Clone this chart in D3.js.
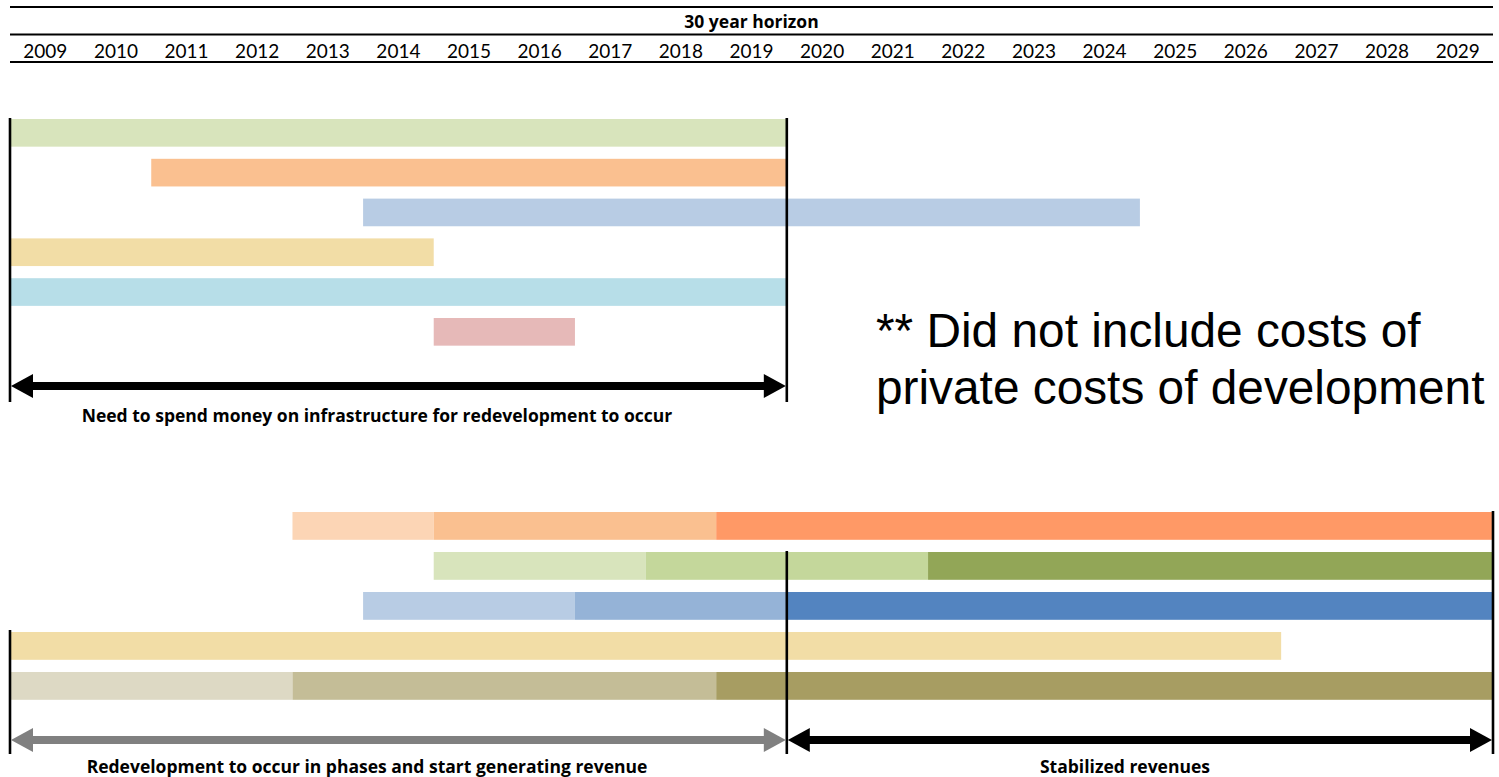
<!DOCTYPE html>
<html>
<head>
<meta charset="utf-8">
<script src="https://cdn.jsdelivr.net/npm/d3@7"></script>
<style>
  html, body { margin: 0; padding: 0; background: #ffffff; }
  svg { display: block; }
</style>
</head>
<body>
<svg id="chart" width="1499" height="777"></svg>
<script>
// Timeline years shown in the header (one column per year)
const years = d3.range(2009, 2030);
const headerTitle = "30 year horizon";

// Infrastructure spending spans [startYear, endYear)
const costRows = ["Streets", "Utilities", "Transit", "Parking", "Stormwater", "Parks"];
const costStart = [2009, 2011, 2014, 2009, 2009, 2015];
const costEnd   = [2020, 2020, 2025, 2015, 2020, 2017];
const costColor = ["#d8e4bc", "#fac090", "#b8cce4", "#f2dda6", "#b7dee8", "#e6b9b8"];

// Revenue streams, each split into ramp-up phases and a stabilized phase
const revRows = ["Property tax", "Sales tax", "Hotel tax", "Fees", "Other"];
const revPhases = [
  [[2013, 2015], [2015, 2019], [2019, 2030]],
  [[2015, 2018], [2018, 2022], [2022, 2030]],
  [[2014, 2017], [2017, 2020], [2020, 2030]],
  [[2009, 2027]],
  [[2009, 2013], [2013, 2019], [2019, 2030]]
];
const revColors = [
  ["#fcd5b5", "#fac090", "#ff9966"],
  ["#d8e4bc", "#c4d79b", "#92a657"],
  ["#b8cce4", "#95b3d7", "#5384c0"],
  ["#f2dda6"],
  ["#ddd9c4", "#c4bd97", "#a79d62"]
];

// Bracketed periods: [startYear, endYear]
const spendPeriod = [2009, 2020];
const rampPeriod = [2009, 2020];
const stablePeriod = [2020, 2030];

const spendLabel = "Need to spend money on infrastructure for redevelopment to occur";
const rampLabel = "Redevelopment to occur in phases and start generating revenue";
const stableLabel = "Stabilized revenues";
const noteLines = ["** Did not include costs of", "private costs of development"];

const svg = d3.select("#chart");
const yearFont = "Lato, 'Open Sans', sans-serif";
const boldFont = "'Open Sans', Lato, sans-serif";
const boldSize = 17.5;

const x = d3.scaleLinear().domain([2009, 2030]).range([10, 1493]);

// ---- header ----
const header = svg.append("g");
[7, 34.5, 62].forEach(y => {
  header.append("line")
    .attr("x1", x(2009)).attr("x2", x(2030))
    .attr("y1", y).attr("y2", y)
    .attr("stroke", "#000").attr("stroke-width", 2.2);
});
header.append("text")
  .attr("x", x(2019.5)).attr("y", 28)
  .attr("text-anchor", "middle")
  .attr("font-family", boldFont).attr("font-weight", "bold")
  .attr("font-size", boldSize)
  .text(headerTitle);

const yearAxis = d3.axisBottom(d3.scaleBand().domain(years).range([x(2009), x(2030)]))
  .tickSize(0).tickPadding(0);
const ax = header.append("g").attr("transform", "translate(0,44)").call(yearAxis);
ax.select(".domain").remove();
ax.selectAll("text")
  .attr("font-family", yearFont).attr("font-size", 19)
  .attr("fill", "#000").attr("dy", "0.71em");

// ---- infrastructure cost bars ----
// paddingOuter = paddingInner / 2 keeps the step equal to range / n; align(0) starts at the top
const barPad = 0.305;
const yCost = d3.scaleBand().domain(costRows)
  .range([119, 119 + 39.8 * costRows.length])
  .paddingInner(barPad).paddingOuter(barPad / 2).align(0);
svg.append("g").selectAll("rect")
  .data(costRows)
  .join("rect")
  .attr("x", (d, i) => x(costStart[i]))
  .attr("width", (d, i) => x(costEnd[i]) - x(costStart[i]))
  .attr("y", d => yCost(d))
  .attr("height", yCost.bandwidth())
  .attr("fill", (d, i) => costColor[i]);

// ---- revenue bars ----
const yRev = d3.scaleBand().domain(revRows)
  .range([512, 512 + 40 * revRows.length])
  .paddingInner(barPad).paddingOuter(barPad / 2).align(0);
const revG = svg.append("g");
revRows.forEach((r, i) => {
  revG.append("g").selectAll("rect")
    .data(revPhases[i])
    .join("rect")
    .attr("x", d => x(d[0]))
    .attr("width", d => x(d[1]) - x(d[0]))
    .attr("y", yRev(r))
    .attr("height", yRev.bandwidth())
    .attr("fill", (d, j) => revColors[i][j]);
});

// ---- brackets & arrows ----
function vline(year, y1, y2) {
  svg.append("line")
    .attr("x1", x(year)).attr("x2", x(year))
    .attr("y1", y1).attr("y2", y2)
    .attr("stroke", "#000").attr("stroke-width", 2.6);
}
function doubleArrow(y0, y1, yc, color) {
  const a = x(y0), b = x(y1);
  const hl = 23, hh = 12;
  const g = svg.append("g");
  g.append("line")
    .attr("x1", a + hl - 1).attr("x2", b - hl + 1)
    .attr("y1", yc).attr("y2", yc)
    .attr("stroke", color).attr("stroke-width", 8);
  g.append("path")
    .attr("d", `M${a + 1},${yc} L${a + hl},${yc - hh} L${a + hl},${yc + hh} Z`)
    .attr("fill", color);
  g.append("path")
    .attr("d", `M${b - 1},${yc} L${b - hl},${yc - hh} L${b - hl},${yc + hh} Z`)
    .attr("fill", color);
}

vline(spendPeriod[0], 118, 402);
vline(spendPeriod[1], 118, 402);
doubleArrow(spendPeriod[0], spendPeriod[1], 386, "#000");

vline(rampPeriod[0], 630, 754);
vline(rampPeriod[1], 551, 754);
vline(stablePeriod[1], 511, 754);
doubleArrow(rampPeriod[0], rampPeriod[1], 740, "#808080");
doubleArrow(stablePeriod[0], stablePeriod[1], 740, "#000");

// ---- labels ----
function boldLabel(text, cx, y) {
  svg.append("text")
    .attr("x", cx).attr("y", y)
    .attr("text-anchor", "middle")
    .attr("font-family", boldFont).attr("font-weight", "bold")
    .attr("font-size", boldSize).attr("fill", "#000")
    .text(text);
}
boldLabel(spendLabel, 377, 422);
boldLabel(rampLabel, 367, 773);
boldLabel(stableLabel, 1125, 773);

const note = svg.append("text")
  .attr("font-family", "'Liberation Sans', Arial, sans-serif")
  .attr("font-size", 47.8).attr("fill", "#000");
noteLines.forEach((t, i) => {
  note.append("tspan").attr("x", 876).attr("y", 347 + i * 57).text(t);
});
</script>
</body>
</html>
